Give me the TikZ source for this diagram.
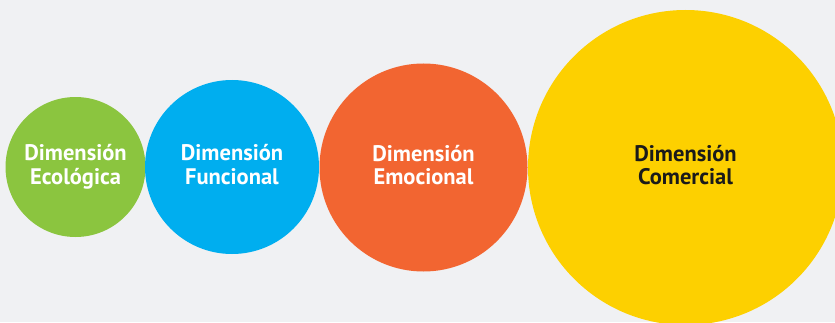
\documentclass[tikz,border=0pt]{standalone}
\usepackage{fontspec}
\setmainfont{PT Sans}
\definecolor{bgcol}{HTML}{F0F1F3}
\definecolor{ecogreen}{HTML}{8BC53F}
\definecolor{funblue}{HTML}{00AEEF}
\definecolor{emoorange}{HTML}{F26531}
\definecolor{comyellow}{HTML}{FDD000}
\definecolor{darktext}{HTML}{1A1A1A}
\newcommand{\twolines}[2]{\renewcommand{\arraystretch}{1.0}\begin{tabular}{@{}c@{}}\rule{0pt}{18pt}#1\\#2\rule[-6pt]{0pt}{6pt}\end{tabular}}
\begin{document}
\begin{tikzpicture}[x=1pt,y=1pt,
  dimcircle/.style={circle,inner sep=0pt,draw=none,
    font=\fontsize{22.5}{23.5}\selectfont\bfseries},
]
\useasboundingbox (0,0) rectangle (835,322);
\fill[bgcol] (0,0) rectangle (835,322);
\clip (0,0) rectangle (835,322);
\node[dimcircle,fill=ecogreen,text=white,minimum size=140pt] (eco) at (75.5,155)
  {\twolines{Dimensión}{Ecológica}};
\node[dimcircle,fill=funblue,text=white,minimum size=174pt] (fun) at (232,155)
  {\twolines{Dimensión}{Funcional}};
\node[dimcircle,fill=emoorange,text=white,minimum size=208pt] (emo) at (423.5,154.5)
  {\twolines{Dimensión}{Emocional}};
\node[dimcircle,fill=comyellow,text=darktext,minimum size=315pt] (com) at (685.5,154.5)
  {\twolines{Dimensión}{Comercial}};
\end{tikzpicture}
\end{document}
